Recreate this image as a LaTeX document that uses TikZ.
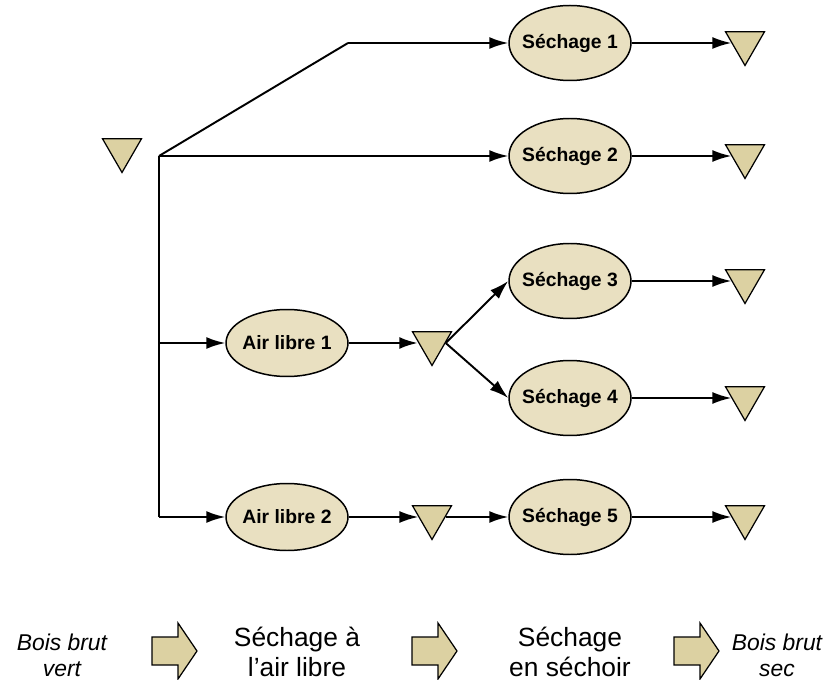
\documentclass[tikz,border=0pt]{standalone}
\usepackage{fontspec}
\setmainfont{Liberation Sans}
\usetikzlibrary{positioning,shapes.geometric,arrows.meta}

\definecolor{sable}{HTML}{DCD1A2}
\definecolor{sableclair}{HTML}{E9E0C1}

\begin{document}
\begin{tikzpicture}[%
    >={Latex[length=0.38cm,width=0.24cm]},
    node distance=2.4cm,
    on grid,
    line width=1.1pt,
    etape/.style={ellipse, draw, fill=sableclair, line width=0.85pt,
      minimum width=2.44cm, minimum height=1.5cm, inner ysep=0pt, inner xsep=-3pt,
      font=\fontsize{11}{13}\selectfont\bfseries},
    stock/.style={regular polygon, regular polygon sides=3,
      shape border rotate=180, draw, fill=sable, line width=0.7pt,
      minimum size=0.9cm, inner sep=0pt},
    legende/.style={align=center, font=\fontsize{15}{17}\selectfont},
    legendeit/.style={align=center, font=\fontsize{13}{14.7}\selectfont\itshape},
    pics/fleche/.style={code={
      \draw[fill=sable, line width=0.7pt] (-0.45,0.28) -- (0.07,0.28) -- (0.07,0.56)
        -- (0.45,0) -- (0.07,-0.56) -- (0.07,-0.28) -- (-0.45,-0.28) -- cycle;}}
  ]
    \useasboundingbox (0,0) rectangle (16.68,-13.6);

    \node[stock] (src) at (2.44,-3.0) {};
    \node[etape] (s1) at (11.4,-0.86) {Séchage 1};
    \node[etape] (s2) [below=2.26cm of s1] {Séchage 2};
    \node[etape] (s3) [below=2.5cm of s2] {Séchage 3};
    \node[etape] (s4) [below=2.34cm of s3] {Séchage 4};
    \node[etape] (s5) [below=2.38cm of s4] {Séchage 5};
    \node[etape, minimum height=1.34cm] (al1) at (5.74,-6.86) {Air libre 1};
    \node[etape, minimum height=1.34cm] (al2) [left=5.66cm of s5] {Air libre 2};
    \node[stock] (m1) [right=2.9cm of al1] {};
    \node[stock] (m2) [right=2.9cm of al2] {};
    \foreach \i in {1,...,5}
      \node[stock] (t\i) [right=3.5cm of s\i] {};

    \coordinate (B) at (6.96,-0.86);
    \coordinate (J) at (3.18,-3.12);
    \coordinate (K1) at (J |- al1);
    \coordinate (K2) at (J |- al2);

    \draw (J) -- (B);
    \draw (J) -- (K2);
    \path[->] (B)       edge (s1)
              (J)       edge (s2)
              (K1)      edge (al1)
              (K2)      edge (al2)
              (al1)     edge [line width=1.7pt] (m1)
              (m1.east) edge (s3.west)
              (m1.east) edge (s4.west)
              (al2)     edge (m2)
              (m2)      edge (s5);
    \foreach \i in {1,...,5}
      \draw[->] (s\i) -- (t\i);

    % legende du bas
    \pic at (3.49,-13.02) {fleche};
    \pic at (8.69,-13.02) {fleche};
    \pic at (13.93,-13.02) {fleche};
    \node[legendeit] (vert) at (1.24,-13.1) {Bois brut\\vert};
    \node[legende] (air) at (5.94,-13.04) {Séchage à\\l’air libre};
    \node[legende] (sechoir) at (11.4,-13.04) {Séchage\\en séchoir};
    \node[legendeit] (sec) at (15.54,-13.1) {Bois brut\\sec};
  \end{tikzpicture}
\end{document}
